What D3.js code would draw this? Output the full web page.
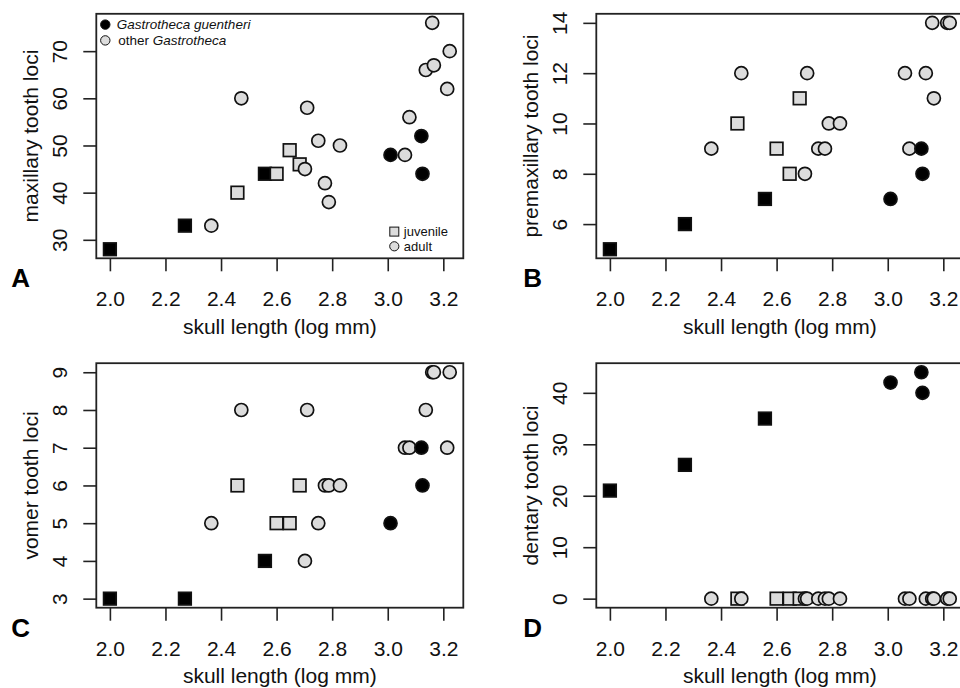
<!DOCTYPE html>
<html>
<head>
<meta charset="utf-8">
<script src="https://cdn.jsdelivr.net/npm/d3@7"></script>
<style>
  body { margin: 0; background: #fff; }
  svg { display: block; font-family: "Liberation Sans", Arial, Helvetica, sans-serif; }
</style>
</head>
<body>
<svg id="chart" width="960" height="688"></svg>
<script>
"use strict";

// one entry per specimen
const skull_length = [2.00, 2.27, 2.558, 3.01, 3.121, 3.125,
    2.459, 2.60, 2.647, 2.683,
    2.365, 2.473, 2.702, 2.71, 2.75, 2.774, 2.788, 2.828,
    3.062, 3.078, 3.137, 3.16, 3.166, 3.214, 3.223];
const species = ["g", "g", "g", "g", "g", "g",
    "o", "o", "o", "o",
    "o", "o", "o", "o", "o", "o", "o", "o",
    "o", "o", "o", "o", "o", "o", "o"];
const stage = ["j", "j", "j", "a", "a", "a",
    "j", "j", "j", "j",
    "a", "a", "a", "a", "a", "a", "a", "a",
    "a", "a", "a", "a", "a", "a", "a"];

const maxillary = [28, 33, 44, 48, 52, 44, 40, 44, 49, 46,
    33, 60, 45, 58, 51, 42, 38, 50, 48, 56, 66, 76, 67, 62, 70];
const premaxillary = [5, 6, 7, 7, 9, 8, 10, 9, 8, 11,
    9, 12, 8, 12, 9, 9, 10, 10, 12, 9, 12, 14, 11, 14, 14];
const vomer = [3, 3, 4, 5, 7, 6, 6, 5, 5, 6,
    5, 8, 4, 8, 5, 6, 6, 6, 7, 7, 8, 9, 9, 7, 9];
const dentary = [21, 26, 35, 42, 44, 40, 0, 0, 0, 0,
    0, 0, 0, 0, 0, 0, 0, 0, 0, 0, 0, 0, 0, 0, 0];

const x_ticks = [2.0, 2.2, 2.4, 2.6, 2.8, 3.0, 3.2];
const x_title = "skull length (log mm)";

const panels = [
    {letter: "A", values: maxillary, title: "maxillary tooth loci", ticks: [30, 40, 50, 60, 70]},
    {letter: "B", values: premaxillary, title: "premaxillary tooth loci", ticks: [6, 8, 10, 12, 14]},
    {letter: "C", values: vomer, title: "vomer tooth loci", ticks: [3, 4, 5, 6, 7, 8, 9]},
    {letter: "D", values: dentary, title: "dentary tooth loci", ticks: [0, 10, 20, 30, 40]},
];

const GRAY = "#dcdcdc";
const svg = d3.select("#chart");

// R style 4% padding on the data range
const padded = function(ext){
    const p = (ext[1] - ext[0]) * 0.04;
    return [ext[0] - p, ext[1] + p];
};

const box_w = 367, box_h = 244.5;
const origins = [[96.3, 13.8], [596.3, 13.8], [96.3, 363.2], [596.3, 363.2]];

// drawing order: guentheri juveniles, other juveniles, other adults, guentheri adults
const order = d3.range(skull_length.length).sort((a, b) => {
    const rank = (i) => stage[i] === "j" ? (species[i] === "g" ? 0 : 1) : (species[i] === "o" ? 2 : 3);
    return rank(a) - rank(b);
});

const x = d3.scaleLinear().domain(padded(d3.extent(skull_length))).range([0, box_w]);

panels.forEach(function(p, k){
    const [ox, oy] = origins[k];
    const g = svg.append("g").attr("transform", `translate(${ox},${oy})`);
    const y = d3.scaleLinear().domain(padded(d3.extent(p.values))).range([box_h, 0]);

    // x axis
    const gx = g.append("g").attr("transform", `translate(0,${box_h})`)
        .call(d3.axisBottom(x).tickValues(x_ticks).tickSize(13).tickSizeOuter(0).tickFormat(d3.format(".1f")));
    gx.select(".domain").remove();
    gx.selectAll("line").attr("stroke", "#222").attr("stroke-width", 1.6);
    gx.selectAll("text").attr("y", 48).attr("dy", null)
        .attr("fill", "#111").style("font-size", "21px");

    // y axis
    const gy = g.append("g")
        .call(d3.axisLeft(y).tickValues(p.ticks).tickSize(13).tickSizeOuter(0).tickFormat(d3.format("d")));
    gy.select(".domain").remove();
    gy.selectAll("line").attr("stroke", "#222").attr("stroke-width", 1.6);
    gy.selectAll("text").attr("x", null).attr("dy", null)
        .attr("transform", "translate(-29,0) rotate(-90)")
        .attr("text-anchor", "middle")
        .attr("fill", "#111").style("font-size", "21px");

    g.append("text")
        .attr("transform", `translate(-58.5,${box_h / 2}) rotate(-90)`)
        .attr("text-anchor", "middle")
        .style("font-size", "21px").attr("fill", "#111")
        .text(p.title);

    g.append("text")
        .attr("x", box_w / 2).attr("y", box_h + 75.5)
        .attr("text-anchor", "middle")
        .style("font-size", "21px").attr("fill", "#111")
        .text(x_title);

    g.append("text")
        .attr("x", k % 2 === 0 ? -85 : -73).attr("y", box_h + 29)
        .style("font-size", "26px").style("font-weight", "bold")
        .text(p.letter);

    // points
    const pts = g.append("g");
    order.forEach(function(i){
        const cx = x(skull_length[i]), cy = y(p.values[i]);
        const fill = species[i] === "g" ? "#000" : GRAY;
        if (stage[i] === "j"){
            pts.append("rect")
                .attr("x", cx - 6.3).attr("y", cy - 6.3)
                .attr("width", 12.6).attr("height", 12.6)
                .attr("fill", fill).attr("stroke", "#111").attr("stroke-width", 1.7);
        } else {
            pts.append("circle")
                .attr("cx", cx).attr("cy", cy).attr("r", 6.5)
                .attr("fill", fill).attr("stroke", "#111").attr("stroke-width", 1.7);
        }
    });

    // box
    g.append("rect").attr("width", box_w).attr("height", box_h)
        .attr("fill", "none").attr("stroke", "#222").attr("stroke-width", 1.8);

    if (k === 0){
        // species legend
        const leg = g.append("g").style("font-size", "13.5px").attr("fill", "#111");
        leg.append("circle").attr("cx", 9).attr("cy", 10.8).attr("r", 4.7)
            .attr("fill", "#000").attr("stroke", "#111").attr("stroke-width", 1);
        leg.append("text").attr("x", 20.5).attr("y", 15.5)
            .style("font-style", "italic").text("Gastrotheca guentheri");
        leg.append("circle").attr("cx", 9).attr("cy", 26.6).attr("r", 4.7)
            .attr("fill", GRAY).attr("stroke", "#111").attr("stroke-width", 1);
        const t = leg.append("text").attr("x", 22).attr("y", 31.3);
        t.append("tspan").text("other ");
        t.append("tspan").style("font-style", "italic").text("Gastrotheca");

        // stage legend
        const leg2 = g.append("g").style("font-size", "13px").attr("fill", "#111");
        leg2.append("rect").attr("x", 293.5).attr("y", 213.3).attr("width", 9).attr("height", 9)
            .attr("fill", GRAY).attr("stroke", "#111").attr("stroke-width", 1);
        leg2.append("text").attr("x", 307.5).attr("y", 222.2).text("juvenile");
        leg2.append("circle").attr("cx", 298).attr("cy", 232.5).attr("r", 4.6)
            .attr("fill", GRAY).attr("stroke", "#111").attr("stroke-width", 1);
        leg2.append("text").attr("x", 307.5).attr("y", 237).text("adult");
    }
});
</script>
</body>
</html>
